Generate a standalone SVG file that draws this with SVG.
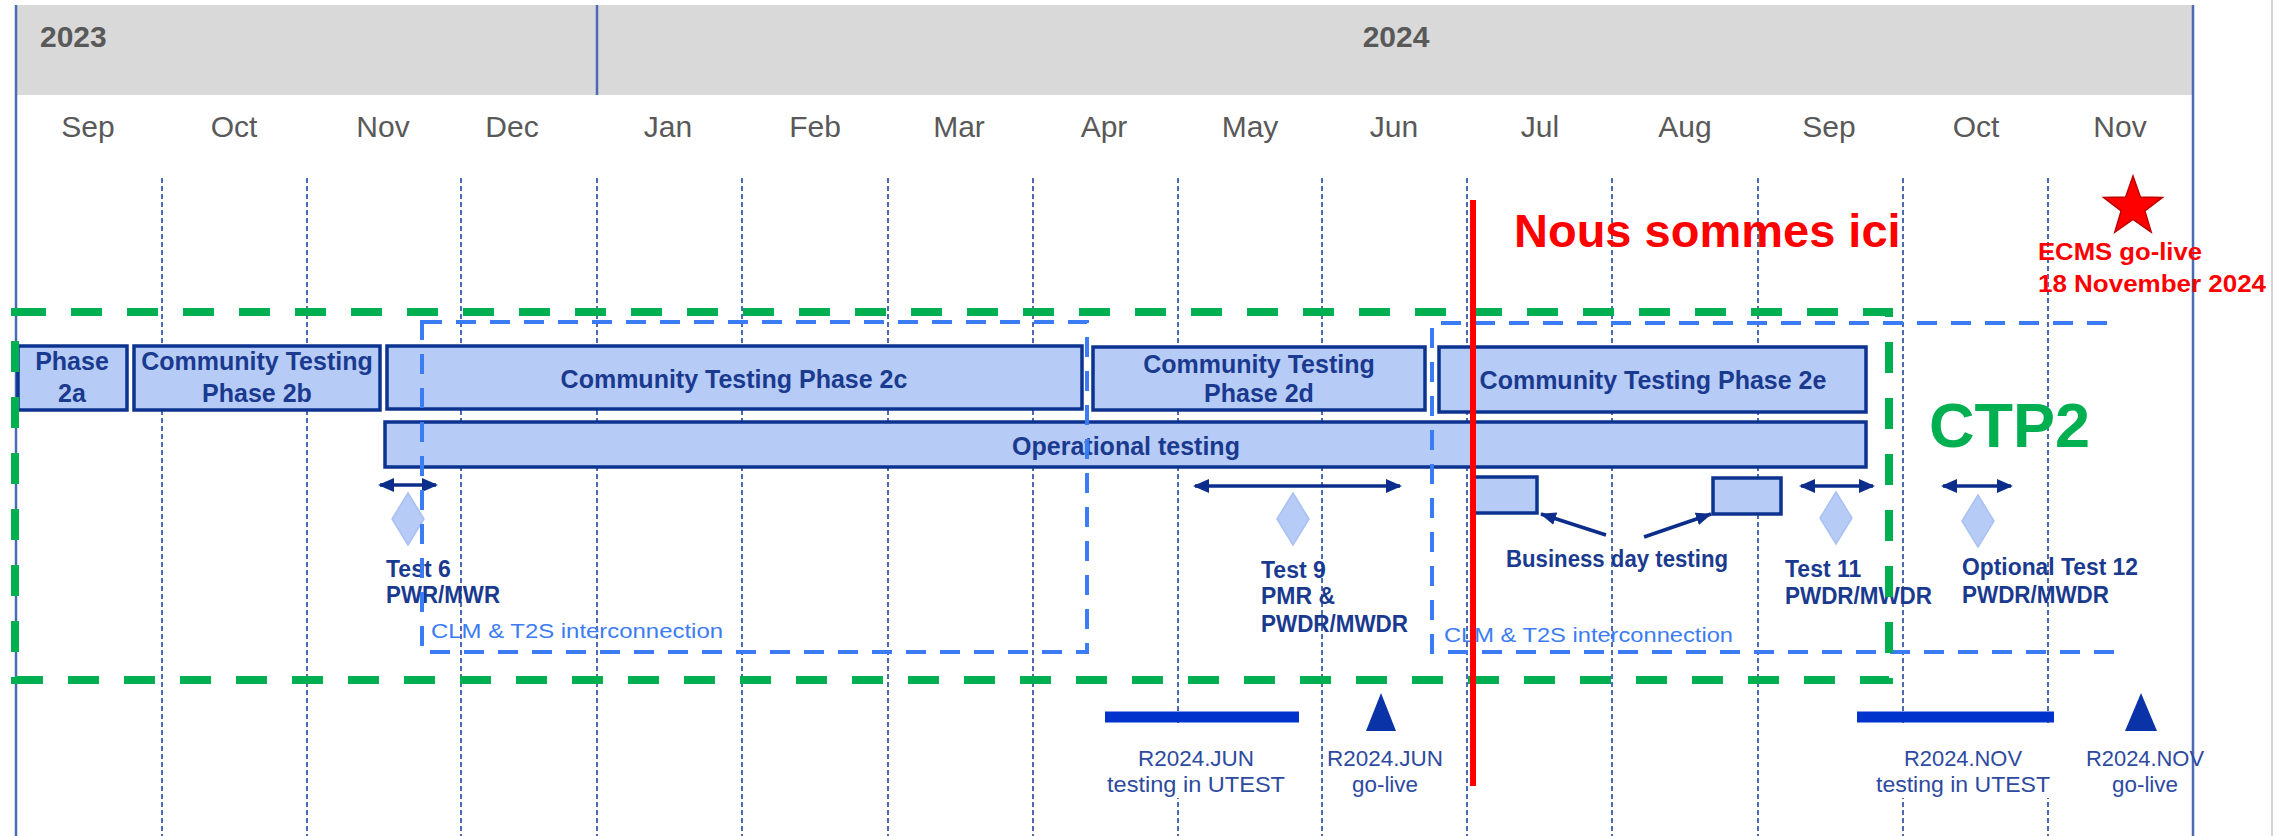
<svg xmlns="http://www.w3.org/2000/svg" width="2293" height="836" viewBox="0 0 2293 836">
<style>
.mon{font-family:"Liberation Sans",Arial,sans-serif;font-size:30px;fill:#595959;text-anchor:middle}
.yr{font-family:"Liberation Sans",Arial,sans-serif;font-size:30px;font-weight:bold;fill:#595959}
.grid{stroke:#3a5ba8;stroke-width:1.8;stroke-dasharray:5 3;fill:none}
.box{fill:#b7cbf7;stroke:#0d3391;stroke-width:3.5}
.bt{font-family:"Liberation Sans",Arial,sans-serif;font-size:25px;font-weight:bold;fill:#1a3a8f;text-anchor:middle}
.lb{font-family:"Liberation Sans",Arial,sans-serif;font-size:23px;font-weight:bold;fill:#1a3a8f}
.clm{fill:none;stroke:#3b7cf5;stroke-width:4;stroke-dasharray:20 14}
.clmt{font-family:"Liberation Sans",Arial,sans-serif;font-size:21px;fill:#3b7cf5}
.dia{fill:#b7cbf7;stroke:#a9c1f2;stroke-width:1.5}
.arr{stroke:#0d2d8c;stroke-width:3.5;fill:none}
.rel{font-family:"Liberation Sans",Arial,sans-serif;font-size:22px;fill:#2d4aa0;text-anchor:middle}
.bar{stroke:#0033cc;stroke-width:11}
.tri{fill:#0a33a8}
.red{font-family:"Liberation Sans",Arial,sans-serif;font-weight:bold;fill:#ff0000}
</style>
<defs>
<marker id="ah" viewBox="0 0 16 14" refX="14" refY="7" markerWidth="16" markerHeight="14" markerUnits="userSpaceOnUse" orient="auto-start-reverse"><path d="M0,0 L16,7 L0,14 z" fill="#0d2d8c"/></marker>
<marker id="ah2" viewBox="0 0 16 13" refX="15" refY="6.5" markerWidth="16" markerHeight="13" markerUnits="userSpaceOnUse" orient="auto"><path d="M0,0 L16,6.5 L0,13 z" fill="#0d2d8c"/></marker>
</defs>
<rect x="0" y="0" width="2293" height="836" fill="#ffffff"/>
<line x1="2272" y1="0" x2="2272" y2="836" stroke="#d4d4d4" stroke-width="2"/>
<g id="header">
<rect x="17" y="5" width="2176" height="90" fill="#d9d9d9"/>
<line x1="597" y1="5" x2="597" y2="95" stroke="#4a6ab5" stroke-width="2.5"/>
<text class="yr" x="40" y="47">2023</text>
<text class="yr" x="1396" y="47" text-anchor="middle">2024</text>
<text class="mon" x="88" y="137">Sep</text>
<text class="mon" x="234" y="137">Oct</text>
<text class="mon" x="383" y="137">Nov</text>
<text class="mon" x="512" y="137">Dec</text>
<text class="mon" x="668" y="137">Jan</text>
<text class="mon" x="815" y="137">Feb</text>
<text class="mon" x="959" y="137">Mar</text>
<text class="mon" x="1104" y="137">Apr</text>
<text class="mon" x="1250" y="137">May</text>
<text class="mon" x="1394" y="137">Jun</text>
<text class="mon" x="1540" y="137">Jul</text>
<text class="mon" x="1685" y="137">Aug</text>
<text class="mon" x="1829" y="137">Sep</text>
<text class="mon" x="1976" y="137">Oct</text>
<text class="mon" x="2120" y="137">Nov</text>
</g>
<g id="grid">
<line x1="16" y1="5" x2="16" y2="836" stroke="#4a6ab5" stroke-width="2.5"/>
<line x1="2193" y1="5" x2="2193" y2="836" stroke="#4a6ab5" stroke-width="2.5"/>
<path class="grid" d="M162 178V836M307 178V836M461 178V836M597 178V836M742 178V836M888 178V836M1033 178V836M1178 178V836M1322 178V836M1467 178V836M1612 178V836M1758 178V836M1903 178V836M2048 178V836"/>
</g>
<g id="phase2a"><rect class="box" x="18" y="346" width="109" height="64"/><text class="bt" x="72" y="370">Phase</text><text class="bt" x="72" y="402">2a</text></g>
<g id="phase2b"><rect class="box" x="134" y="346" width="246" height="64"/><text class="bt" x="257" y="370">Community Testing</text><text class="bt" x="257" y="402">Phase 2b</text></g>
<g id="phase2c"><rect class="box" x="387" y="346" width="695" height="63"/><text class="bt" x="734" y="388">Community Testing Phase 2c</text></g>
<g id="phase2d"><rect class="box" x="1093" y="347" width="332" height="63"/><text class="bt" x="1259" y="373">Community Testing</text><text class="bt" x="1259" y="402">Phase 2d</text></g>
<g id="phase2e"><rect class="box" x="1439" y="347" width="427" height="65"/><text class="bt" x="1653" y="389">Community Testing Phase 2e</text></g>
<g id="operational"><rect class="box" x="385" y="422" width="1481" height="45"/><text class="bt" x="1126" y="455">Operational testing</text></g>
<g id="bdt1"><rect class="box" x="1473" y="477" width="64" height="36"/></g>
<g id="bdt2"><rect class="box" x="1713" y="478" width="68" height="36"/></g>
<g id="tests">
<polygon class="dia" points="408,493 424,519 408,545 392,519"/>
<text class="lb" x="386" y="577">Test 6</text><text class="lb" x="386" y="603" textLength="114" lengthAdjust="spacingAndGlyphs">PWR/MWR</text>
<polygon class="dia" points="1293,493 1309,519 1293,545 1277,519"/>
<text class="lb" x="1261" y="578">Test 9</text><text class="lb" x="1261" y="604">PMR &amp;</text><text class="lb" x="1261" y="632" textLength="147" lengthAdjust="spacingAndGlyphs">PWDR/MWDR</text>
<polygon class="dia" points="1836,492 1852,518 1836,544 1820,518"/>
<text class="lb" x="1785" y="577">Test 11</text><text class="lb" x="1785" y="604" textLength="147" lengthAdjust="spacingAndGlyphs">PWDR/MWDR</text>
<polygon class="dia" points="1978,495 1994,521 1978,547 1962,521"/>
<text class="lb" x="1962" y="575" textLength="176" lengthAdjust="spacingAndGlyphs">Optional Test 12</text><text class="lb" x="1962" y="603" textLength="147" lengthAdjust="spacingAndGlyphs">PWDR/MWDR</text>
<text class="lb" x="1506" y="567" textLength="222" lengthAdjust="spacingAndGlyphs">Business day testing</text>
</g>
<g id="connectors">
<line class="arr" x1="380" y1="485" x2="436" y2="485" marker-start="url(#ah)" marker-end="url(#ah)"/>
<line class="arr" x1="1195" y1="486" x2="1400" y2="486" marker-start="url(#ah)" marker-end="url(#ah)"/>
<line class="arr" x1="1801" y1="486" x2="1873" y2="486" marker-start="url(#ah)" marker-end="url(#ah)"/>
<line class="arr" x1="1943" y1="486" x2="2011" y2="486" marker-start="url(#ah)" marker-end="url(#ah)"/>
<line class="arr" x1="1606" y1="535" x2="1541" y2="514" marker-end="url(#ah2)"/>
<line class="arr" x1="1644" y1="537" x2="1711" y2="514" marker-end="url(#ah2)"/>
</g>
<g id="clm">
<rect class="clm" x="422" y="322" width="665" height="330"/>
<path class="clm" d="M2107 323H1432V652H2126"/>
<text class="clmt" x="431" y="638" textLength="292" lengthAdjust="spacingAndGlyphs">CLM &amp; T2S interconnection</text>
<text class="clmt" x="1444" y="642" textLength="289" lengthAdjust="spacingAndGlyphs">CLM &amp; T2S interconnection</text>
</g>
<g id="releases">
<rect x="1102" y="723" width="192" height="75" fill="#ffffff"/>
<rect x="1872" y="723" width="184" height="75" fill="#ffffff"/>
<line class="bar" x1="1105" y1="717" x2="1299" y2="717"/>
<line class="bar" x1="1857" y1="717" x2="2054" y2="717"/>
<polygon class="tri" points="1366,731 1396,731 1381,693"/>
<polygon class="tri" points="2125,731 2157,731 2141,693"/>
<text class="rel" x="1196" y="766" textLength="116" lengthAdjust="spacingAndGlyphs">R2024.JUN</text>
<text class="rel" x="1196" y="792" textLength="178" lengthAdjust="spacingAndGlyphs">testing in UTEST</text>
<text class="rel" x="1385" y="766" textLength="116" lengthAdjust="spacingAndGlyphs">R2024.JUN</text>
<text class="rel" x="1385" y="792" textLength="66" lengthAdjust="spacingAndGlyphs">go-live</text>
<text class="rel" x="1963" y="766" textLength="118" lengthAdjust="spacingAndGlyphs">R2024.NOV</text>
<text class="rel" x="1963" y="792" textLength="174" lengthAdjust="spacingAndGlyphs">testing in UTEST</text>
<text class="rel" x="2145" y="766" textLength="118" lengthAdjust="spacingAndGlyphs">R2024.NOV</text>
<text class="rel" x="2145" y="792" textLength="66" lengthAdjust="spacingAndGlyphs">go-live</text>
</g>
<g id="ctp2">
<rect x="15" y="312" width="1874" height="368" fill="none" stroke="#00b050" stroke-width="8" stroke-dasharray="31 25"/>
<text x="1929" y="447" font-family="'Liberation Sans',Arial,sans-serif" font-size="63" font-weight="bold" fill="#00b050">CTP2</text>
</g>
<g id="now">
<line x1="1473" y1="200" x2="1473" y2="786" stroke="#ff0000" stroke-width="6"/>
<text class="red" x="1514" y="247" font-size="47">Nous sommes ici</text>
</g>
<g id="ecms">
<polygon points="2133,176 2140.35,196.89 2162.48,197.42 2144.89,210.86 2151.22,232.08 2133,219.5 2114.78,232.08 2121.11,210.86 2103.52,197.42 2125.65,196.89" fill="#ff0000" stroke="#c00000" stroke-width="1.5"/>
<text class="red" x="2038" y="260" font-size="24" textLength="164" lengthAdjust="spacingAndGlyphs">ECMS go-live</text>
<text class="red" x="2038" y="292" font-size="24" textLength="228" lengthAdjust="spacingAndGlyphs">18 November 2024</text>
</g>
</svg>
